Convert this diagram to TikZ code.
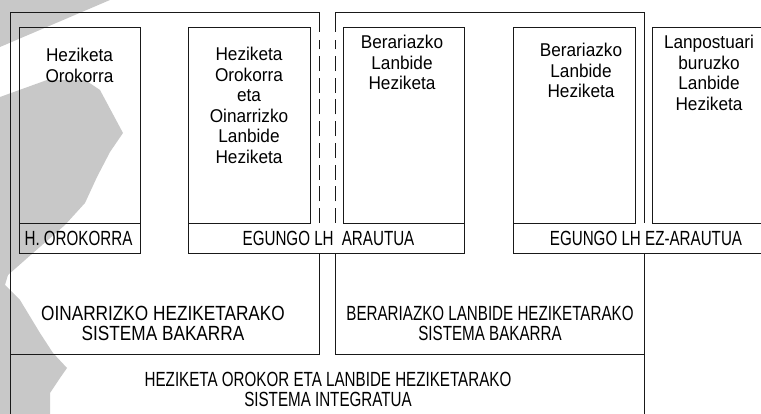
\documentclass[tikz,border=0pt]{standalone}
\usepackage{fontspec}
\setmainfont{Liberation Sans}
\newfontfamily\boxfont[FakeStretch=0.93]{Liberation Sans}
\newfontfamily\widecaps[FakeStretch=0.84]{Liberation Sans}
\newfontfamily\narrowcaps[FakeStretch=0.74]{Liberation Sans}
\definecolor{blob}{RGB}{200,200,200}
\definecolor{ink}{RGB}{25,25,25}

\begin{document}
\begin{tikzpicture}[x=1pt, y=-1pt, line width=0.9pt,
	boxtext/.style={anchor=north, align=center, inner sep=0pt, font=\boxfont\fontsize{18.5}{20.5}\selectfont},
	striptext/.style={inner sep=0pt, font=\narrowcaps\fontsize{20.5}{20}\selectfont},
	systext/.style={anchor=north, align=center, inner sep=0pt, font=\narrowcaps\fontsize{20.5}{20}\selectfont},
	dashline/.style={dash pattern=on 15pt off 6.7pt}]

	\useasboundingbox (0,0) rectangle (761,414);

	% grey shape in the background
	\fill[blob] (0,0) -- (110,0) -- (0,47) -- cycle;
	\fill[blob] (0,97) -- (47,80) -- (85,80) -- (100,90) -- (123,133) -- (110,152) -- (97,177) -- (85,203) -- (65,225) -- (33,253) -- (8,275) -- (5,285) -- (20,300) -- (40,333) -- (53,353) -- (67,368) -- (60,378) -- (50,393) -- (50,414) -- (0,414) -- cycle;

	% the two systems and the integrated one
	\draw[ink] (319,32) -- (319,12) -- (10,12) -- (10,414);
	\draw[ink, dashline] (319,223) -- (319,40);
	\draw[ink] (319,253.5) -- (319,354) -- (10,354);
	\draw[ink] (335,32) -- (335,12) -- (644,12) -- (644,223);
	\draw[ink, dashline] (335,223) -- (335,40);
	\draw[ink] (335,253.5) -- (335,354) -- (644,354);
	\draw[ink] (644,253.5) -- (644,414);

	% the boxes
	\draw[ink] (19,27) rectangle (140,253.5);
	\draw[ink] (19,223) -- (140,223);
	\draw[ink] (188,27) rectangle (310,223);
	\draw[ink] (343,27) rectangle (464,223);
	\draw[ink] (188,223) -- (188,253.5) -- (464,253.5) -- (464,223);
	\draw[ink] (513,27) rectangle (635,223);
	\draw[ink] (761,27) -- (652,27) -- (652,223) -- (761,223);
	\draw[ink] (513,223) -- (513,253.5) -- (761,253.5);

	\node[boxtext] (hoBox) at (79.5,48) {Heziketa\\Orokorra};
	\node[boxtext] (holhBox) at (249,47) {Heziketa\\Orokorra\\eta\\Oinarrizko\\Lanbide\\Heziketa};
	\node[boxtext] (blhBox) at (402,35) {Berariazko\\Lanbide\\Heziketa};
	\node[boxtext] (blhBoxb) at (581,43) {Berariazko\\Lanbide\\Heziketa};
	\node[boxtext] (lblhBox) at (709,35) {Lanpostuari\\buruzko\\Lanbide\\Heziketa};

	\node[striptext] (hoStrip) at (78.5,238.5) {H. OROKORRA};
	\node[striptext] (arautuStrip) at (328.5,238.5) {EGUNGO LH\hspace{4pt} ARAUTUA};
	\node[striptext] (ezarautuStrip) at (646,238.5) {EGUNGO LH EZ-ARAUTUA};

	\node[systext, font=\widecaps\fontsize{20.5}{20}\selectfont] (oinSys) at (163,305.5) {OINARRIZKO HEZIKETARAKO\\SISTEMA BAKARRA};
	\node[systext] (berSys) at (490,306) {BERARIAZKO LANBIDE HEZIKETARAKO\\SISTEMA BAKARRA};
	\node[systext] (intSys) at (328,372) {HEZIKETA OROKOR ETA LANBIDE HEZIKETARAKO\\SISTEMA INTEGRATUA};
\end{tikzpicture}
\end{document}
